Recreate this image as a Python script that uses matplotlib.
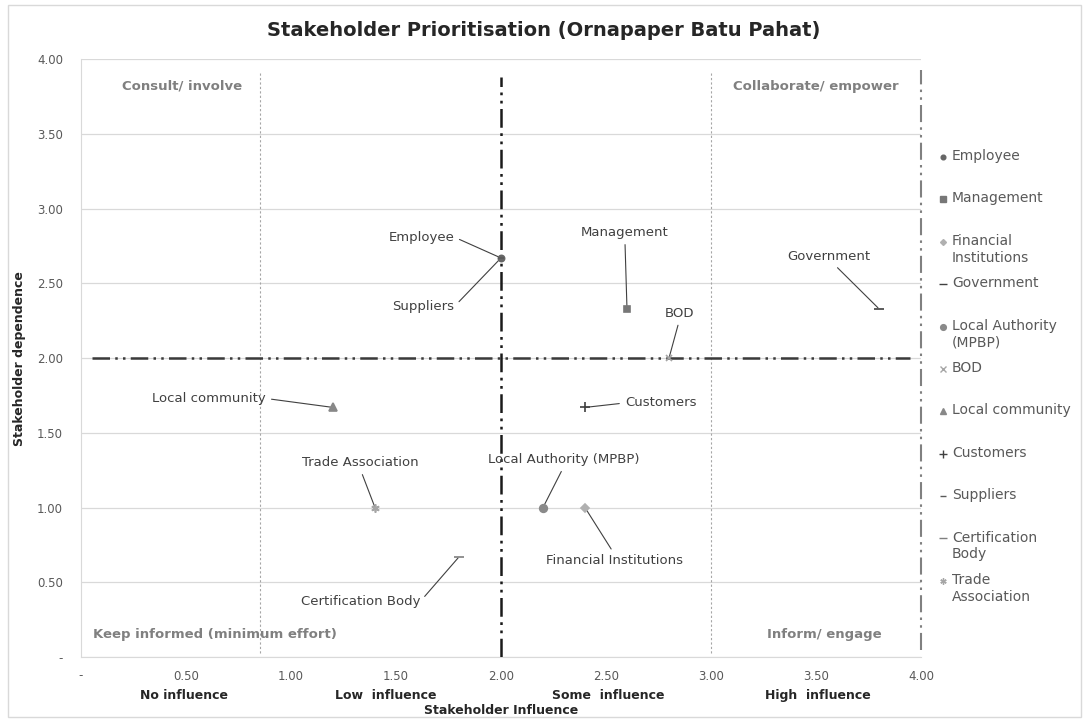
import matplotlib
matplotlib.use("Agg")
import matplotlib.pyplot as plt
from matplotlib.lines import Line2D
from matplotlib.patches import Rectangle

plt.rcParams['font.family'] = ['DejaVu Sans']

# stakeholder scores: influence (x) / dependence (y)
names = ["Employee", "Management", "Financial Institutions", "Government",
         "Local Authority (MPBP)", "BOD", "Local community", "Customers",
         "Suppliers", "Certification Body", "Trade Association"]
legend_names = ["Employee", "Management", "Financial\nInstitutions", "Government",
                "Local Authority\n(MPBP)", "BOD", "Local community", "Customers",
                "Suppliers", "Certification\nBody", "Trade\nAssociation"]
influence = [2.0, 2.6, 2.4, 3.8, 2.2, 2.8, 1.2, 2.4, 2.0, 1.8, 1.4]
dependence = [2.67, 2.33, 1.0, 2.33, 1.0, 2.0, 1.67, 1.67, 2.67, 0.67, 1.0]

# label positions for the call-outs, and where the leader leaves the text
label_x = [1.62, 2.59, 2.54, 3.56, 2.30, 2.85, 0.61, 2.76, 1.63, 1.33, 1.33]
label_y = [2.81, 2.84, 0.645, 2.68, 1.32, 2.30, 1.73, 1.70, 2.345, 0.37, 1.30]
leader_from = [(1, 0.5), (0.5, 0), (0.5, 1), (0.55, 0), (0.5, 0), (0.5, 0),
               (1, 0.5), (0, 0.5), (1, 0.5), (1, 0.5), (0.5, 0)]

markers = ['o', 's', 'D', '_', 'o', 'x', '^', '+', '_', '_', (6, 2, 0)]
msizes = [4.5, 5, 4, 7, 5.5, 5, 6, 7, 5, 7, 6]
colors = ['#666666', '#777777', '#b0b0b0', '#404040', '#8a8a8a', '#a6a6a6',
          '#888888', '#404040', '#595959', '#7f7f7f', '#a6a6a6']

quadrants = ["Consult/ involve", "Collaborate/ empower",
             "Keep informed (minimum effort)", "Inform/ engage"]
quad_x = [0.48, 3.50, 0.64, 3.54]
quad_y = [3.82, 3.82, 0.15, 0.15]

bands = ["No influence", "Low  influence", "Some  influence", "High  influence"]
band_x = [0.49, 1.45, 2.51, 3.51]

yticks = [0, 0.5, 1.0, 1.5, 2.0, 2.5, 3.0, 3.5, 4.0]
xticks = [0, 0.5, 1.0, 1.5, 2.0, 2.5, 3.0, 3.5, 4.0]

fig = plt.figure(figsize=(10.89, 7.22), dpi=100)
ax = fig.add_axes([0.0744, 0.090, 0.7713, 0.828])
ax.set_xlim(0, 4)
ax.set_ylim(0, 4)

fmt = lambda v: '-' if v == 0 else '%.2f' % v
ax.set_yticks(yticks)
ax.set_yticklabels([fmt(v) for v in yticks])
ax.set_xticks(xticks)
ax.set_xticklabels([fmt(v) for v in xticks])
ax.tick_params(length=0, labelsize=8.5, labelcolor='#595959')
ax.tick_params(axis='x', pad=9)
ax.tick_params(axis='y', pad=13)
ax.grid(axis='y', color='#d9d9d9', lw=0.9)
ax.set_axisbelow(True)
for s in ['top', 'right']:
    ax.spines[s].set_visible(False)
for s in ['left', 'bottom']:
    ax.spines[s].set_color('#d9d9d9')

# quadrant dividers (long dash, dot, dot)
ax.plot([2.0, 2.0], [0, 3.88], color='#1a1a1a', lw=1.8,
        dashes=(7.5, 2.2, 1.1, 2.2, 1.1, 2.2), zorder=3)
ax.plot([0.05, 3.95], [2.0, 2.0], color='#3a3a3a', lw=1.8,
        dashes=(7, 2.1, 1.0, 2.1, 1.0, 2.1), zorder=3)
ax.plot([4.0, 4.0], [0.05, 3.93], color='#808080', lw=1.5,
        dashes=(8.2, 2.5, 1.2, 2.5, 1.2, 2.5), clip_on=False, zorder=3)
for xv in [0.85, 3.0]:
    ax.plot([xv, xv], [0.03, 3.92], color='#a6a6a6', lw=0.8, ls=(0, (2, 2)))

for i in range(len(names)):
    ax.plot(influence[i], dependence[i], ls='none', marker=markers[i],
            ms=msizes[i], color=colors[i], mec=colors[i], mew=1.2, zorder=5)
    ax.annotate(names[i], xy=(influence[i], dependence[i]),
                xytext=(label_x[i], label_y[i]), ha='center', va='center',
                fontsize=9.5, color='#404040',
                arrowprops=dict(arrowstyle='-', color='#404040', lw=0.8,
                                relpos=leader_from[i], shrinkA=2, shrinkB=1))

for t, xq, yq in zip(quadrants, quad_x, quad_y):
    ax.text(xq, yq, t, ha='center', va='center', fontsize=9.5,
            fontweight='bold', color='#808080')

for t, xb in zip(bands, band_x):
    ax.text(xb, -0.255, t, ha='center', va='center', fontsize=9,
            fontweight='bold', color='#262626')

ax.text(2.0, -0.36, "Stakeholder Influence", ha='center', va='center',
        fontsize=9, fontweight='bold', color='#262626')
ax.set_ylabel("Stakeholder dependence", fontsize=9, fontweight='bold',
              color='#262626', labelpad=8)

fig.text(0.499, 0.958, "Stakeholder Prioritisation (Ornapaper Batu Pahat)",
         ha='center', va='center', fontsize=14, fontweight='bold',
         color='#262626')

# legend on the right, one slot per stakeholder
for i in range(len(names)):
    yy = 0.7825 - i * 0.0587
    fig.add_artist(Line2D([0.866], [yy], transform=fig.transFigure, ls='none',
                          marker=markers[i], ms=msizes[i] * 0.75,
                          color=colors[i], mec=colors[i], mew=1))
    fig.text(0.874, yy + 0.011, legend_names[i], ha='left', va='top',
             fontsize=10, color='#595959', linespacing=1.25)

fig.add_artist(Rectangle((0.007, 0.007), 0.986, 0.986, transform=fig.transFigure,
                         fill=False, ec='#d9d9d9', lw=1))

fig.savefig("out.png", dpi=100)
